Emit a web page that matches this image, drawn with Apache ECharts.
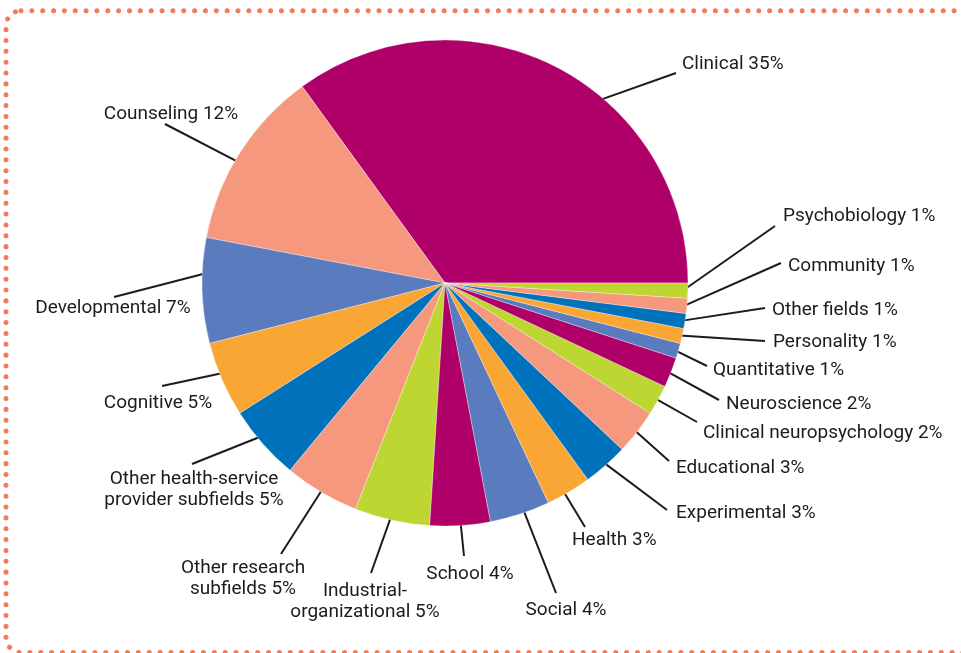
<!DOCTYPE html>
<html><head><meta charset="utf-8">
<script src="https://cdn.jsdelivr.net/npm/echarts@6/dist/echarts.min.js"></script>
<style>html,body{margin:0;padding:0;background:#fff}#c{width:961px;height:653px}</style>
</head><body><div id="c"></div>
<script>
// ---- data ----
const categories = [
  'Clinical', 'Counseling', 'Developmental', 'Cognitive',
  'Other health-service\nprovider subfields', 'Other research\nsubfields',
  'Industrial-\norganizational', 'School', 'Social', 'Health', 'Experimental',
  'Educational', 'Clinical neuropsychology', 'Neuroscience', 'Quantitative',
  'Personality', 'Other fields', 'Community', 'Psychobiology'
];
const shares = [35, 12, 7, 5, 5, 5, 5, 4, 4, 3, 3, 3, 2, 2, 1, 1, 1, 1, 1];

// ---- style / layout ----
const M = '#AF0069', S = '#F5987E', P = '#5B7BBF', O = '#F9A634', B = '#0071BB', L = '#BDD631';
const sliceColors = [M, S, P, O, B, S, L, M, P, O, B, S, L, M, P, O, B, S, L];
const PIE_CENTER = [445, 283];
const PIE_R = 243;
const TEXT_DY = 1.5;
// [text align, anchor x, anchor y, leader end x, leader end y]
const labelPlace = [
  ['left', 682, 63, 676, 73],
  ['center', 171, 113, 165, 124],
  ['center', 113, 307, 114, 297],
  ['center', 158, 402, 162, 386],
  ['center', 194, 488, 192, 464],
  ['center', 243, 577, 281, 554],
  ['center', 365, 600, 371, 573],
  ['center', 470, 573, 464, 556],
  ['center', 566, 609, 556, 593],
  ['left', 572, 539, 585, 527],
  ['left', 676, 512, 667, 510],
  ['left', 676, 467, 669, 461],
  ['left', 703, 432, 697, 422],
  ['left', 726, 403, 719, 400],
  ['left', 713, 369, 707, 366],
  ['left', 773, 341, 765, 341],
  ['left', 772, 309, 765, 308],
  ['left', 788, 265, 781, 263],
  ['left', 783, 215, 775, 226]
];
const lineStartShift = [-13, 2, -6, 0, 0, 0, 0, 0, 1, -1, 0, 0, 0, 0, 0, 0, 0, 0, 0];
const lineStartFrac = [0.98, 0.96, 0.89, 0.87, 0.91, 0.93, 0.93, 0.93, 0.96, 0.97, 0.98, 0.98, 0.98, 0.97, 0.975, 0.99, 0.99, 0.99, 0.98];

const total = shares.reduce((a, b) => a + b, 0);
const midAngles = [];
let acc = 0;
shares.forEach(v => { midAngles.push((acc + v / 2) / total * 360); acc += v; });

const chart = echarts.init(document.getElementById('c'), null, { renderer: 'canvas' });
chart.setOption({
  backgroundColor: '#fff',
  animation: false,
  graphic: [{
    type: 'rect', silent: true, z: -10,
    shape: { x: 6, y: 10.7, width: 980, height: 641.8, r: 15 },
    style: { fill: 'none', stroke: '#F47A5A', lineWidth: 5, lineDash: [0.01, 10.84], lineCap: 'round' }
  }],
  series: [{
    type: 'pie',
    center: PIE_CENTER,
    radius: PIE_R,
    startAngle: 0,
    clockwise: false,
    avoidLabelOverlap: false,
    emphasis: { disabled: true },
    itemStyle: { borderColor: 'rgba(255,255,255,0.55)', borderWidth: 0.6 },
    label: {
      show: true,
      position: 'outside',
      formatter: '{b} {c}%',
      fontFamily: 'Roboto',
      fontSize: 19,
      lineHeight: 21,
      color: '#1E1B1C'
    },
    labelLine: { show: true, length: 10, length2: 10, lineStyle: { color: '#1E1B1C', width: 2 } },
    labelLayout: function (params) {
      const i = params.dataIndex;
      const p = labelPlace[i];
      const a = (midAngles[i] + lineStartShift[i]) * Math.PI / 180;
      const f = lineStartFrac[i] * PIE_R;
      const sx = PIE_CENTER[0] + f * Math.cos(a);
      const sy = PIE_CENTER[1] - f * Math.sin(a);
      return {
        x: p[1], y: p[2] + TEXT_DY, align: p[0], verticalAlign: 'middle',
        hideOverlap: false,
        labelLinePoints: [[sx, sy], [p[3], p[4]], [p[3], p[4]]]
      };
    },
    data: categories.map((name, i) => ({ name: name, value: shares[i], itemStyle: { color: sliceColors[i] } }))
  }]
});
</script>
</body></html>
